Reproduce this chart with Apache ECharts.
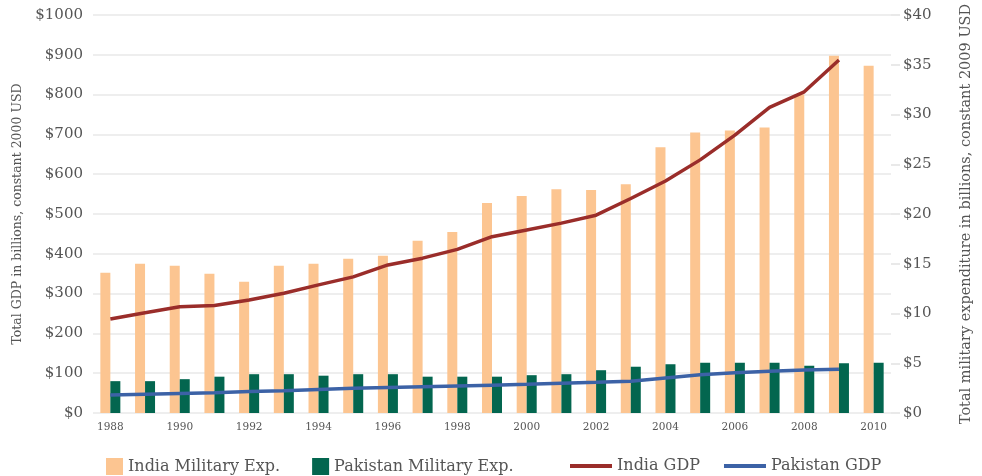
<!DOCTYPE html>
<html>
<head>
<meta charset="utf-8">
<script src="https://cdn.jsdelivr.net/npm/echarts@6/dist/echarts.min.js"></script>
<style>html,body{margin:0;padding:0;background:#fff}#c{width:982px;height:476px}</style>
</head>
<body>
<div id="c"></div>
<script>
var years = ['1988','1989','1990','1991','1992','1993','1994','1995','1996','1997','1998','1999','2000','2001','2002','2003','2004','2005','2006','2007','2008','2009','2010'];
var indiaMilitary = [14.1, 15.0, 14.8, 14.0, 13.2, 14.8, 15.0, 15.5, 15.8, 17.3, 18.2, 21.1, 21.8, 22.5, 22.4, 23.0, 26.7, 28.2, 28.4, 28.7, 32.0, 35.9, 34.9];
var pakistanMilitary = [3.2, 3.2, 3.4, 3.65, 3.9, 3.9, 3.75, 3.9, 3.9, 3.65, 3.65, 3.65, 3.8, 3.9, 4.3, 4.65, 4.9, 5.05, 5.05, 5.05, 4.75, 5.0, 5.05];
var indiaGDP = [236, 252, 267, 270, 284, 301, 322, 342, 372, 389, 411, 443, 460, 477, 497, 539, 583, 636, 698, 768, 807, 887, null];
var pakistanGDP = [45, 47, 49, 51, 54, 56, 59, 62, 64, 66, 68, 70, 72, 75, 77, 80, 88, 96, 101, 105, 108, 110, null];
var leftTitle = 'Total GDP in billions, constant 2000 USD';
var rightTitle = 'Total military expenditure in billions, constant 2009 USD';

var FONT = 'DejaVu Serif';
var chart = echarts.init(document.getElementById('c'), null, {renderer: 'canvas'});
chart.setOption({
  animation: false,
  backgroundColor: '#fff',
  grid: {left: 93, right: 85, top: 15, bottom: 63, containLabel: false},
  legend: [{
    data: ['India Military Exp.', 'Pakistan Military Exp.'],
    left: 101, top: 453, itemWidth: 17, itemHeight: 17, itemGap: 32, icon: 'rect',
    textStyle: {fontFamily: FONT, fontSize: 16, color: '#555'}
  }, {
    data: ['India GDP', 'Pakistan GDP'],
    left: 565, top: 453, itemWidth: 42, itemHeight: 4, itemGap: 24, icon: 'rect',
    textStyle: {fontFamily: FONT, fontSize: 16, color: '#555'}
  }],
  xAxis: {
    type: 'category', data: years, boundaryGap: true,
    axisLine: {show: false}, axisTick: {show: false},
    axisLabel: {interval: 1, fontFamily: FONT, fontSize: 10.5, color: '#555', margin: 9}
  },
  yAxis: [{
    type: 'value', min: 0, max: 1000, interval: 100, position: 'left',
    name: leftTitle, nameLocation: 'middle', nameRotate: 90, nameGap: 66,
    nameTextStyle: {fontFamily: FONT, fontSize: 12.5, color: '#555'},
    axisLine: {show: false}, axisTick: {show: false},
    axisLabel: {formatter: function (v) { return '$' + v; }, fontFamily: FONT, fontSize: 15, color: '#555', margin: 10},
    splitLine: {lineStyle: {color: '#e8e8e8', width: 1.5}}
  }, {
    type: 'value', min: 0, max: 40, interval: 5, position: 'right',
    name: rightTitle, nameLocation: 'middle', nameRotate: 90, nameGap: 68,
    nameTextStyle: {fontFamily: FONT, fontSize: 14.5, color: '#555'},
    axisLine: {show: false}, axisTick: {show: true, inside: false, length: 9, lineStyle: {color: '#e2e2e2', width: 1.5}},
    axisLabel: {formatter: function (v) { return '$' + v; }, fontFamily: FONT, fontSize: 15, color: '#555', margin: 12},
    splitLine: {show: false}
  }],
  series: [{
    name: 'India Military Exp.', type: 'bar', yAxisIndex: 1, data: indiaMilitary,
    barWidth: 10, barGap: '0%', itemStyle: {color: '#fcc591'}
  }, {
    name: 'Pakistan Military Exp.', type: 'bar', yAxisIndex: 1, data: pakistanMilitary,
    barWidth: 10, barGap: '0%', itemStyle: {color: '#03664f'}
  }, {
    name: 'India GDP', type: 'line', yAxisIndex: 0, data: indiaGDP, symbol: 'none', z: 5,
    lineStyle: {color: '#9a2d2a', width: 3.5}, itemStyle: {color: '#9a2d2a'}
  }, {
    name: 'Pakistan GDP', type: 'line', yAxisIndex: 0, data: pakistanGDP, symbol: 'none', z: 5,
    lineStyle: {color: '#3c62a6', width: 3.5}, itemStyle: {color: '#3c62a6'}
  }]
});
</script>
</body>
</html>
